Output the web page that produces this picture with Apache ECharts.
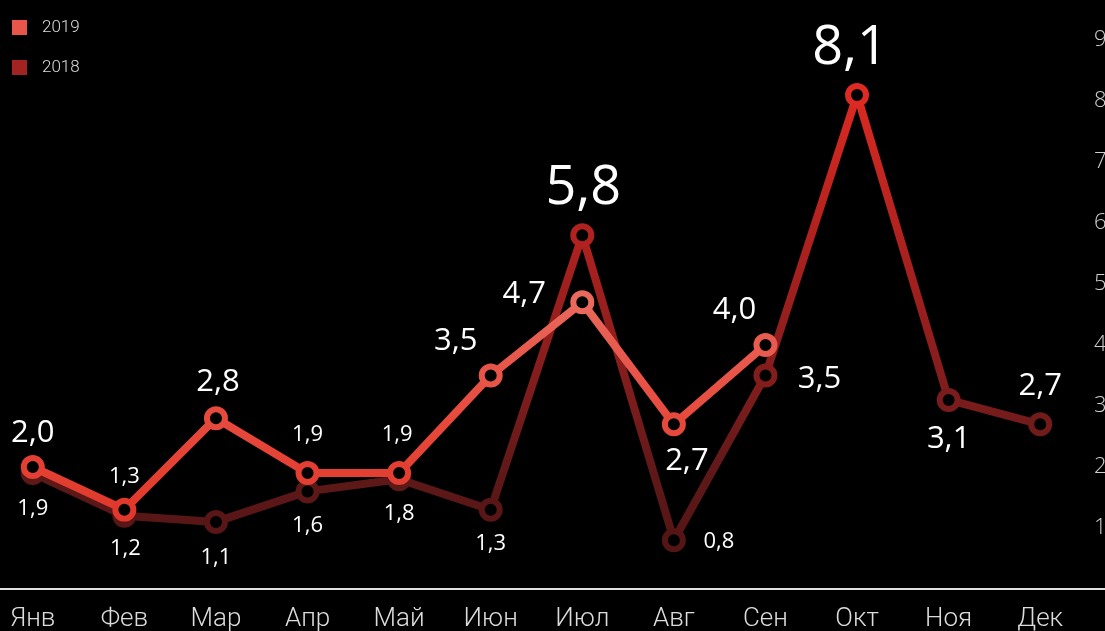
<!DOCTYPE html>
<html>
<head>
<meta charset="utf-8">
<script src="https://cdn.jsdelivr.net/npm/echarts@6/dist/echarts.min.js"></script>
<style>
  html, body { margin: 0; padding: 0; background: #000; }
  #chart { width: 1105px; height: 631px; }
</style>
</head>
<body>
<div id="chart"></div>
<script>
// Monthly values, two years
const months = ['Янв', 'Фев', 'Мар', 'Апр', 'Май', 'Июн', 'Июл', 'Авг', 'Сен', 'Окт', 'Ноя', 'Дек'];
const values2019 = [2.0, 1.3, 2.8, 1.9, 1.9, 3.5, 4.7, 2.7, 4.0, null, null, null];
const values2018 = [1.9, 1.2, 1.1, 1.6, 1.8, 1.3, 5.8, 0.8, 3.5, 8.1, 3.1, 2.7];
const yTicks = [0, 1, 2, 3, 4, 5, 6, 7, 8, 9];

// Colour ramps by value (low -> high)
const ramp2019 = [[1.3, '#e0382a'], [2.8, '#e64a3d'], [4.0, '#e85c50'], [4.7, '#e96a5d']];
const ramp2018 = [[0.8, '#561515'], [1.9, '#5e1818'], [3.1, '#7b1c1c'], [5.8, '#b0221f'], [8.1, '#dd2a22']];

function hexToRgb(h) {
  return [parseInt(h.slice(1, 3), 16), parseInt(h.slice(3, 5), 16), parseInt(h.slice(5, 7), 16)];
}
function colorAt(ramp, v) {
  if (v <= ramp[0][0]) return ramp[0][1];
  for (let i = 1; i < ramp.length; i++) {
    if (v <= ramp[i][0]) {
      const t = (v - ramp[i - 1][0]) / (ramp[i][0] - ramp[i - 1][0]);
      const a = hexToRgb(ramp[i - 1][1]), b = hexToRgb(ramp[i][1]);
      const c = a.map((x, k) => Math.round(x + (b[k] - x) * t));
      return 'rgb(' + c.join(',') + ')';
    }
  }
  return ramp[ramp.length - 1][1];
}
function lineGradient(ramp, vals) {
  const nums = vals.filter(v => v != null);
  const hi = Math.max(...nums), lo = Math.min(...nums);
  const stops = ramp.map(([v, c]) => ({ offset: Math.min(1, Math.max(0, (hi - v) / (hi - lo))), color: c }))
    .sort((a, b) => a.offset - b.offset);
  return new echarts.graphic.LinearGradient(0, 0, 0, 1, stops);
}

const fmt = v => v.toFixed(1).replace('.', ',');
const SIZE = { s: 22, m: 31, l: 54 };

// label placement around each point: [size, dx, dy]
const labels2019 = [['m', 0, -34], ['s', 0, -33], ['m', 2, -36], ['s', 0, -38], ['s', -2, -38],
  ['m', -35, -34], ['m', -58, -8], ['m', 13, 37], ['m', -31, -35]];
const labels2018 = [['s', 0, 36], ['s', 1, 33], ['s', 0, 36], ['s', 0, 34], ['s', 0, 35], ['s', 0, 34],
  ['l', 1, -47], ['s', 45, 2], ['m', 54, 4], ['l', -7, -46], ['m', 0, 39], ['m', 0, -38]];

function buildData(vals, ramp, lab) {
  return vals.map((v, i) => {
    if (v == null) return null;
    const [sz, dx, dy] = lab[i];
    return {
      value: v,
      itemStyle: { color: '#000', borderColor: colorAt(ramp, v), borderWidth: 6 },
      label: {
        show: true, position: 'inside', offset: [dx, dy],
        fontSize: SIZE[sz], color: '#fff',
        fontFamily: '"Open Sans", sans-serif',
        formatter: p => fmt(p.value)
      }
    };
  });
}

const chart = echarts.init(document.getElementById('chart'), null, { renderer: 'canvas' });
chart.setOption({
  backgroundColor: '#000',
  animation: false,
  legend: {
    orient: 'vertical', left: 12, top: 19, padding: 0, itemWidth: 15, itemHeight: 15, itemGap: 23,
    icon: 'rect',
    textStyle: { color: '#dcdcdc', fontSize: 17, fontFamily: 'Roboto', fontWeight: 300, padding: [0, 0, 0, 10] },
    data: [
      { name: '2019', itemStyle: { color: '#e8554a', borderWidth: 0 } },
      { name: '2018', itemStyle: { color: '#a32222', borderWidth: 0 } }
    ]
  },
  grid: [
    { left: -13, right: 19, top: 40, bottom: 42, outerBoundsMode: 'none', containLabel: false },
    { left: 0, right: 0, top: 40, bottom: 42, outerBoundsMode: 'none', containLabel: false }
  ],
  xAxis: [
    {
      type: 'category', data: months, boundaryGap: true, gridIndex: 0,
      axisLine: { show: false }, axisTick: { show: false },
      axisLabel: { color: '#dcdcdc', fontSize: 26, fontFamily: 'Roboto', fontWeight: 300, margin: 17 }
    },
    {
      type: 'value', gridIndex: 1, min: 0, max: 1,
      axisLine: { show: true, lineStyle: { color: '#e0e0e0', width: 2 } },
      axisTick: { show: false }, axisLabel: { show: false }, splitLine: { show: false }
    }
  ],
  yAxis: [
    {
      type: 'value', position: 'right', min: yTicks[0], max: yTicks[yTicks.length - 1], interval: 1, gridIndex: 0,
      axisLine: { show: false }, axisTick: { show: false }, splitLine: { show: false },
      axisLabel: {
        color: '#cfcfcf', fontSize: 22, fontFamily: '"Open Sans", sans-serif', fontWeight: 300, margin: 8,
        formatter: v => (v === 0 ? '' : String(v))
      }
    },
    { type: 'value', gridIndex: 1, show: false }
  ],
  series: [
    {
      name: '2018', type: 'line', xAxisIndex: 0, yAxisIndex: 0,
      data: buildData(values2018, ramp2018, labels2018),
      symbol: 'circle', symbolSize: 18, showAllSymbol: true,
      itemStyle: { color: '#a32222' },
      lineStyle: { width: 8, color: lineGradient(ramp2018, values2018) },
      z: 2
    },
    {
      name: '2019', type: 'line', xAxisIndex: 0, yAxisIndex: 0,
      data: buildData(values2019, ramp2019, labels2019),
      symbol: 'circle', symbolSize: 18, showAllSymbol: true,
      itemStyle: { color: '#e8554a' },
      lineStyle: { width: 8, color: lineGradient(ramp2019, values2019) },
      z: 3
    }
  ]
});
</script>
</body>
</html>
